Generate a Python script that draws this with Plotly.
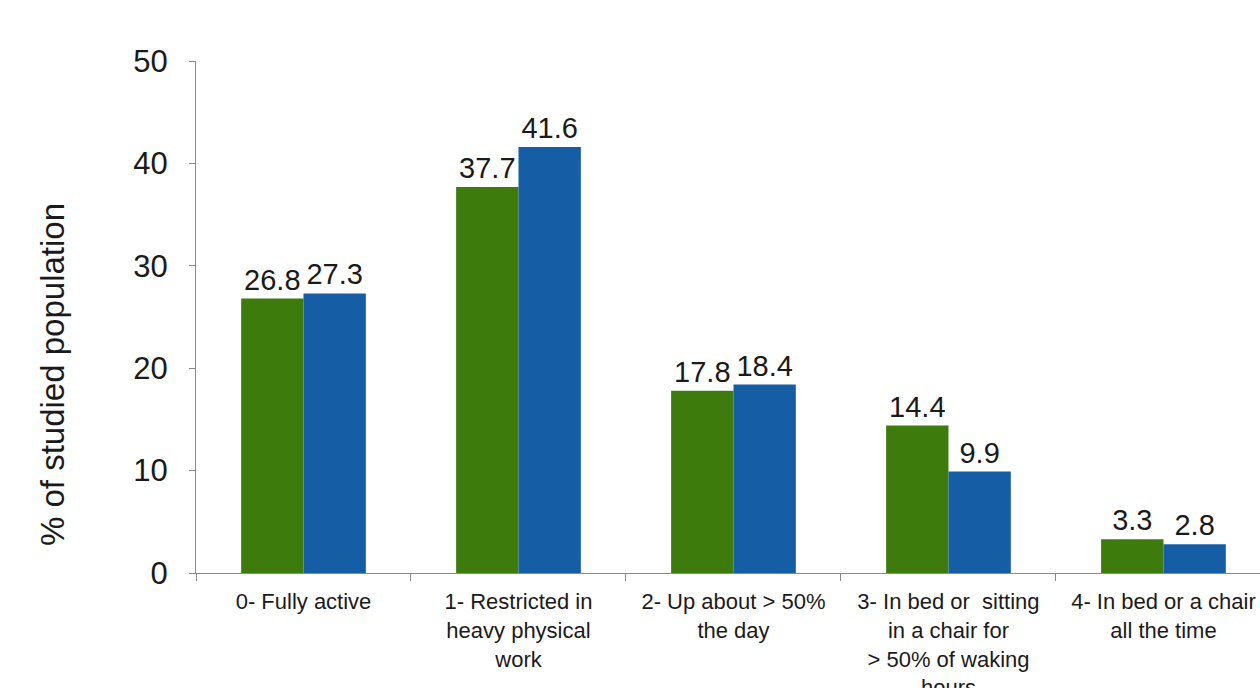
import plotly.graph_objects as go

# ECOG performance status categories
categories = [
    "0- Fully active",
    "1- Restricted in<br>heavy physical<br>work",
    "2- Up about > 50%<br>the day",
    "3- In bed or  sitting<br>in a chair for<br>> 50% of waking<br>hours",
    "4- In bed or a chair<br>all the time",
]
series_green = [26.8, 37.7, 17.8, 14.4, 3.3]
series_blue = [27.3, 41.6, 18.4, 9.9, 2.8]
y_ticks = [0, 10, 20, 30, 40, 50]

GREEN = "#3d7b0d"
BLUE = "#155ea6"
AXIS = "#8a8a8a"
FONT = "Liberation Sans, Arial, sans-serif"

fig = go.Figure()
for name, vals, col in [("Cohort 1", series_green, GREEN), ("Cohort 2", series_blue, BLUE)]:
    fig.add_trace(go.Bar(
        x=categories, y=vals, name=name,
        marker=dict(color=col, line=dict(width=0)),
        text=[f"{v:.1f}" for v in vals],
        textposition="outside",
        constraintext="none",
        cliponaxis=False,
        textfont=dict(family=FONT, size=29, color="#1a1a1a"),
    ))

fig.update_layout(
    width=1260, height=688,
    template="none",
    barmode="group",
    bargap=0.42,
    bargroupgap=0,
    showlegend=False,
    paper_bgcolor="white",
    plot_bgcolor="white",
    margin=dict(l=196, r=0, t=61, b=115),
    font=dict(family=FONT, color="#1a1a1a"),
    xaxis=dict(
        type="category",
        range=[-0.5, 4.449],
        tickson="boundaries",
        ticks="outside", ticklen=7, tickcolor=AXIS, tickwidth=1,
        showline=True, linecolor=AXIS, linewidth=1,
        showgrid=False, zeroline=False,
        automargin=False,
        ticklabelstandoff=9,
        tickfont=dict(family=FONT, size=22, color="#1a1a1a"),
        tickangle=0,
    ),
    yaxis=dict(
        range=[0, 50],
        tickvals=y_ticks,
        ticks="outside", ticklen=6, tickcolor=AXIS, tickwidth=1,
        showline=True, linecolor=AXIS, linewidth=1,
        showgrid=False, zeroline=False,
        automargin=False,
        ticklabelstandoff=15,
        tickfont=dict(family=FONT, size=31, color="#1a1a1a"),
    ),
    annotations=[dict(
        text="% of studied population",
        xref="paper", yref="paper",
        x=-0.1353, y=0.3867,
        xanchor="center", yanchor="middle",
        textangle=-90, showarrow=False,
        font=dict(family=FONT, size=33, color="#1a1a1a"),
    )],
)

fig.write_html("out.html")
